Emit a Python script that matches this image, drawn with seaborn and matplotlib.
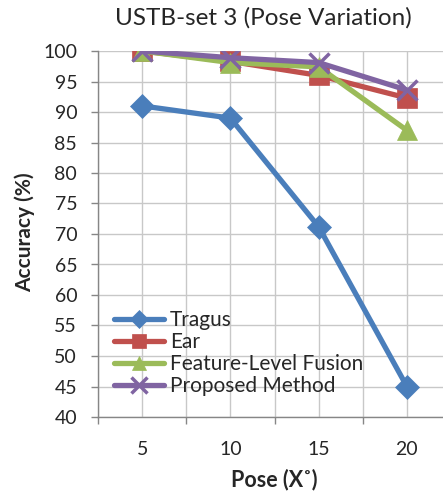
import numpy as np
import pandas as pd
import matplotlib
matplotlib.use('Agg')
import matplotlib.pyplot as plt
import seaborn as sns

# 数据
poses = ['5', '10', '15', '20']
tragus = [91.0, 89.0, 71.2, 45.0]
ear = [100.0, 98.3, 96.0, 92.3]
fusion = [100.0, 98.1, 97.4, 87.0]
proposed = [100.0, 98.9, 98.1, 93.6]

series_names = ['Tragus', 'Ear', 'Feature-Level Fusion', 'Proposed Method']
series_values = [tragus, ear, fusion, proposed]
colors = ['#4A7EBB', '#C0504D', '#9BBB59', '#8064A2']
markers = ['D', 's', '^', 'x']
msizes = [12, 14, 14, 15]

sns.set_theme(style='white')
plt.rcParams['font.family'] = ['Lato', 'DejaVu Sans']

fig = plt.figure(figsize=(4.43, 4.98), dpi=100)
ax = fig.add_axes([98 / 443, 1 - 417 / 498, (451 - 98) / 443, (417 - 51) / 498])

pos = np.arange(len(poses))
for name, vals, c, m, ms in zip(series_names, series_values, colors, markers, msizes):
    df = pd.DataFrame({'x': pos, 'y': vals})
    sns.lineplot(data=df, x='x', y='y', ax=ax, color=c, lw=3.8, marker=m,
                 markersize=ms, markeredgecolor=c, markeredgewidth=2.5 if m == 'x' else 0.5,
                 label=name)

ax.set_xlim(-0.5, 3.5)
ax.set_ylim(40, 100)
ax.set_yticks(np.arange(40, 101, 5))
ax.set_xticks(pos)
ax.set_xticklabels(poses)
ax.set_xticks(np.arange(-0.5, 3.6, 1.0), minor=True)

ax.grid(True, which='major', color='#C8C8C8', lw=1.0)
ax.grid(True, which='minor', axis='x', color='#C8C8C8', lw=1.0)
ax.set_axisbelow(True)

for s in ['top', 'right']:
    ax.spines[s].set_visible(False)
for s in ['left', 'bottom']:
    ax.spines[s].set_color('#868686')
    ax.spines[s].set_linewidth(1.0)

ax.tick_params(axis='x', which='major', length=0, pad=17, labelsize=14)
ax.tick_params(axis='x', which='minor', length=5, width=1, color='#868686', direction='out', bottom=True)
ax.tick_params(axis='y', which='major', length=5, width=1, color='#868686', direction='out', left=True,
               pad=10, labelsize=14)

ax.set_xlabel('')
ax.set_ylabel('')
fig.text(25 / 443, 1 - 232 / 498, 'Accuracy (%)', rotation=90, ha='center', va='center',
         fontsize=15, fontweight='bold')
fig.text(274 / 443, 1 - 480 / 498, 'Pose (X˚)', ha='center', va='center',
         fontsize=15.5, fontweight='bold')
fig.text(263 / 443, 1 - 18 / 498, 'USTB-set 3 (Pose Variation)', ha='center', va='center',
         fontsize=17.5)

leg = ax.legend(loc='lower left', bbox_to_anchor=(0.045, 0.057), frameon=False, fontsize=15,
                handlelength=2.4, handletextpad=0.3, labelspacing=0.1, borderaxespad=0.0,
                borderpad=0.0, markerscale=0.75)

fig.savefig('out.png', dpi=100)
